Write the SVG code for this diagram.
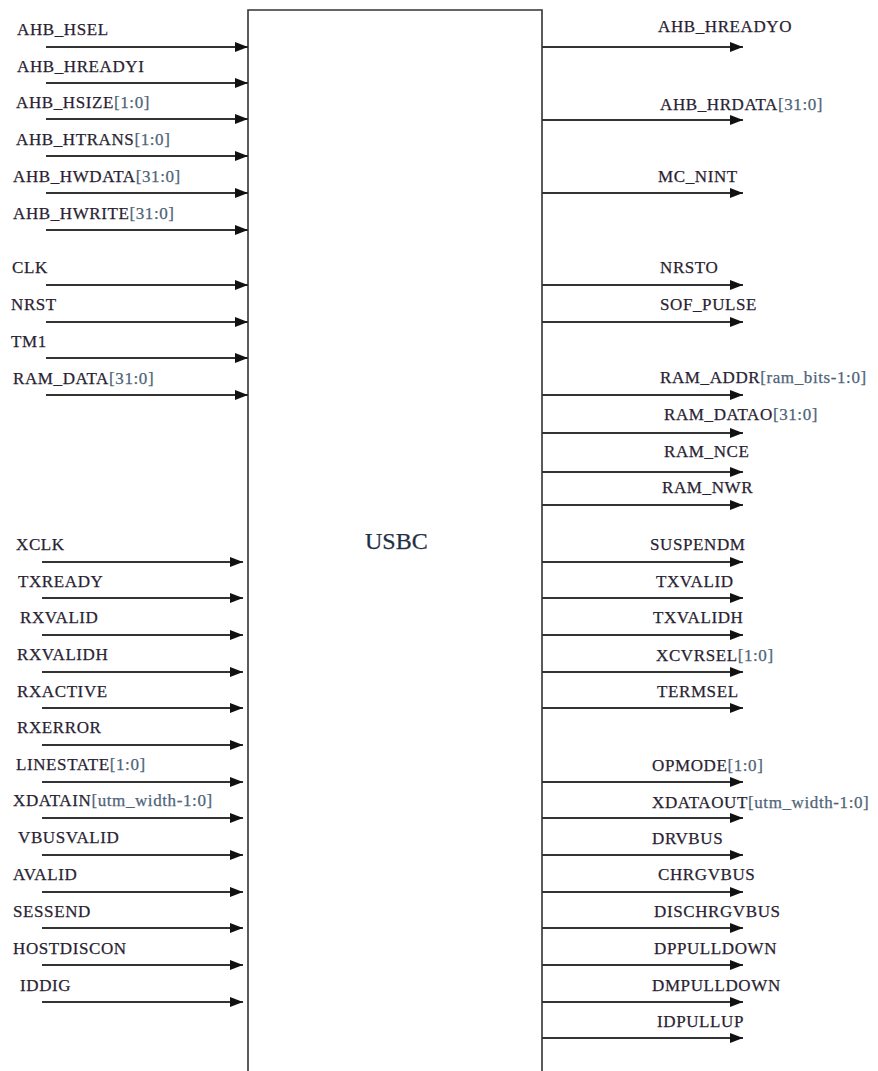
<svg xmlns="http://www.w3.org/2000/svg" width="878" height="1071" viewBox="0 0 878 1071">
<style>
text{font-family:"Liberation Serif","Times New Roman",serif;font-size:17px;letter-spacing:0.6px;fill:#2a1f33;stroke:#2a1f33;stroke-width:0.25}
.b{fill:#4f6478;stroke:#4f6478}
.c{stroke:#333;stroke-width:1.9;fill:none}
.box{stroke:#333;stroke-width:1.6;fill:none}
.title{font-size:24px;letter-spacing:0;fill:#1f2f44;stroke:#1f2f44}
</style>
<defs>
<marker id="ah" markerUnits="userSpaceOnUse" markerWidth="13" markerHeight="10" refX="13" refY="5" orient="auto">
<path d="M0,0 L13,5 L0,10 z" fill="#111"/>
</marker>
</defs>
<rect width="878" height="1071" fill="#fff"/>
<g id="usbc">
<path class="box" d="M248,1072 V10 H542 V1072"/>
<text class="title" x="365" y="549">USBC</text>
</g>
<g id="connectors">
<g class="c">
<line x1="46" y1="47" x2="248" y2="47" marker-end="url(#ah)"/>
<line x1="46" y1="83" x2="248" y2="83" marker-end="url(#ah)"/>
<line x1="46" y1="119" x2="248" y2="119" marker-end="url(#ah)"/>
<line x1="46" y1="156" x2="248" y2="156" marker-end="url(#ah)"/>
<line x1="46" y1="193" x2="248" y2="193" marker-end="url(#ah)"/>
<line x1="46" y1="230" x2="248" y2="230" marker-end="url(#ah)"/>
<line x1="46" y1="285" x2="248" y2="285" marker-end="url(#ah)"/>
<line x1="46" y1="322" x2="248" y2="322" marker-end="url(#ah)"/>
<line x1="46" y1="358" x2="248" y2="358" marker-end="url(#ah)"/>
<line x1="46" y1="395" x2="248" y2="395" marker-end="url(#ah)"/>
<line x1="42" y1="562" x2="243" y2="562" marker-end="url(#ah)"/>
<line x1="42" y1="598" x2="243" y2="598" marker-end="url(#ah)"/>
<line x1="42" y1="635" x2="243" y2="635" marker-end="url(#ah)"/>
<line x1="42" y1="672" x2="243" y2="672" marker-end="url(#ah)"/>
<line x1="42" y1="708" x2="243" y2="708" marker-end="url(#ah)"/>
<line x1="42" y1="745" x2="243" y2="745" marker-end="url(#ah)"/>
<line x1="42" y1="782" x2="243" y2="782" marker-end="url(#ah)"/>
<line x1="42" y1="818" x2="243" y2="818" marker-end="url(#ah)"/>
<line x1="42" y1="855" x2="243" y2="855" marker-end="url(#ah)"/>
<line x1="42" y1="892" x2="243" y2="892" marker-end="url(#ah)"/>
<line x1="42" y1="928" x2="243" y2="928" marker-end="url(#ah)"/>
<line x1="42" y1="965" x2="243" y2="965" marker-end="url(#ah)"/>
<line x1="42" y1="1002" x2="243" y2="1002" marker-end="url(#ah)"/>
<line x1="542" y1="47" x2="743" y2="47" marker-end="url(#ah)"/>
<line x1="542" y1="120" x2="743" y2="120" marker-end="url(#ah)"/>
<line x1="542" y1="193" x2="743" y2="193" marker-end="url(#ah)"/>
<line x1="542" y1="285" x2="743" y2="285" marker-end="url(#ah)"/>
<line x1="542" y1="322" x2="743" y2="322" marker-end="url(#ah)"/>
<line x1="542" y1="395" x2="743" y2="395" marker-end="url(#ah)"/>
<line x1="542" y1="433" x2="743" y2="433" marker-end="url(#ah)"/>
<line x1="542" y1="472" x2="743" y2="472" marker-end="url(#ah)"/>
<line x1="542" y1="505" x2="743" y2="505" marker-end="url(#ah)"/>
<line x1="542" y1="562" x2="743" y2="562" marker-end="url(#ah)"/>
<line x1="542" y1="598" x2="743" y2="598" marker-end="url(#ah)"/>
<line x1="542" y1="635" x2="743" y2="635" marker-end="url(#ah)"/>
<line x1="542" y1="672" x2="743" y2="672" marker-end="url(#ah)"/>
<line x1="542" y1="708" x2="743" y2="708" marker-end="url(#ah)"/>
<line x1="542" y1="782" x2="743" y2="782" marker-end="url(#ah)"/>
<line x1="542" y1="818" x2="743" y2="818" marker-end="url(#ah)"/>
<line x1="542" y1="855" x2="743" y2="855" marker-end="url(#ah)"/>
<line x1="542" y1="892" x2="743" y2="892" marker-end="url(#ah)"/>
<line x1="542" y1="928" x2="743" y2="928" marker-end="url(#ah)"/>
<line x1="542" y1="965" x2="743" y2="965" marker-end="url(#ah)"/>
<line x1="542" y1="1002" x2="743" y2="1002" marker-end="url(#ah)"/>
<line x1="542" y1="1038" x2="743" y2="1038" marker-end="url(#ah)"/>
</g>
</g>
<g id="labels">
<text x="17" y="35">AHB_HSEL</text>
<text x="17" y="72">AHB_HREADYI</text>
<text x="16" y="108">AHB_HSIZE<tspan class="b">[1:0]</tspan></text>
<text x="16" y="145">AHB_HTRANS<tspan class="b">[1:0]</tspan></text>
<text x="13" y="182">AHB_HWDATA<tspan class="b">[31:0]</tspan></text>
<text x="13" y="219">AHB_HWRITE<tspan class="b">[31:0]</tspan></text>
<text x="12" y="273">CLK</text>
<text x="11" y="310">NRST</text>
<text x="11" y="347">TM1</text>
<text x="13" y="384">RAM_DATA<tspan class="b">[31:0]</tspan></text>
<text x="16" y="550">XCLK</text>
<text x="18" y="587">TXREADY</text>
<text x="20" y="623">RXVALID</text>
<text x="17" y="660">RXVALIDH</text>
<text x="17" y="697">RXACTIVE</text>
<text x="17" y="733">RXERROR</text>
<text x="16" y="770">LINESTATE<tspan class="b">[1:0]</tspan></text>
<text x="13" y="806">XDATAIN<tspan class="b">[utm_width-1:0]</tspan></text>
<text x="18" y="843">VBUSVALID</text>
<text x="13" y="880">AVALID</text>
<text x="13" y="917">SESSEND</text>
<text x="13" y="954">HOSTDISCON</text>
<text x="20" y="991">IDDIG</text>
<text x="658" y="32">AHB_HREADYO</text>
<text x="660" y="110">AHB_HRDATA<tspan class="b">[31:0]</tspan></text>
<text x="658" y="182">MC_NINT</text>
<text x="660" y="273">NRSTO</text>
<text x="660" y="310">SOF_PULSE</text>
<text x="660" y="383">RAM_ADDR<tspan class="b">[ram_bits-1:0]</tspan></text>
<text x="664" y="420">RAM_DATAO<tspan class="b">[31:0]</tspan></text>
<text x="664" y="457">RAM_NCE</text>
<text x="662" y="493">RAM_NWR</text>
<text x="650" y="550">SUSPENDM</text>
<text x="656" y="587">TXVALID</text>
<text x="653" y="623">TXVALIDH</text>
<text x="656" y="661">XCVRSEL<tspan class="b">[1:0]</tspan></text>
<text x="657" y="697">TERMSEL</text>
<text x="652" y="771">OPMODE<tspan class="b">[1:0]</tspan></text>
<text x="652" y="808">XDATAOUT<tspan class="b">[utm_width-1:0]</tspan></text>
<text x="652" y="844">DRVBUS</text>
<text x="658" y="880">CHRGVBUS</text>
<text x="654" y="917">DISCHRGVBUS</text>
<text x="654" y="954">DPPULLDOWN</text>
<text x="652" y="991">DMPULLDOWN</text>
<text x="657" y="1027">IDPULLUP</text>
</g>
</svg>
